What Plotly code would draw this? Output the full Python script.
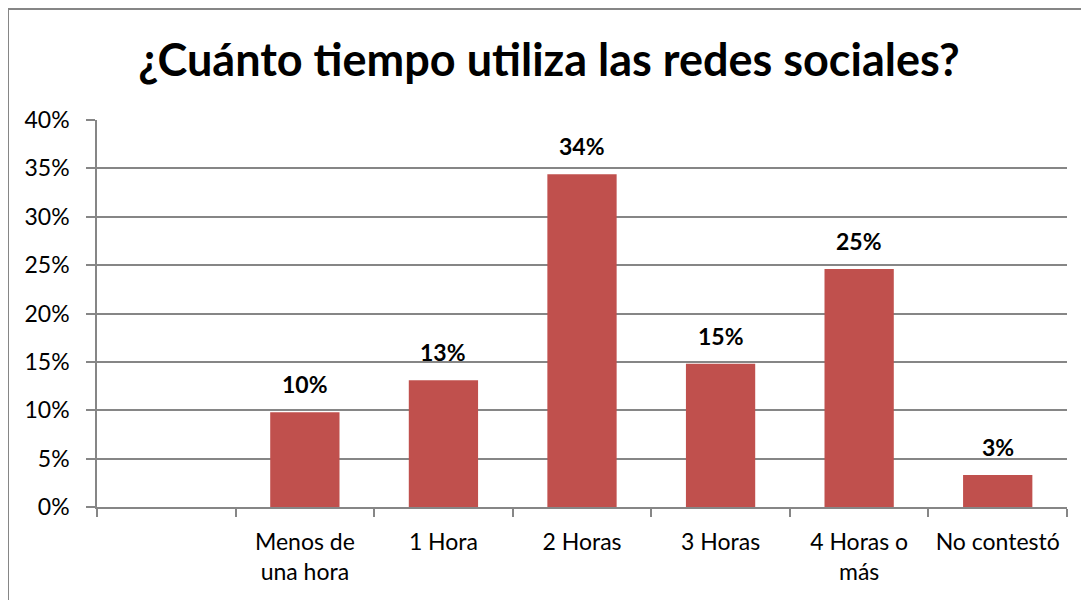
import plotly.graph_objects as go

categories = [" ", "Menos de<br>una hora", "1 Hora", "2 Horas", "3 Horas", "4 Horas o<br>más", "No contestó"]
values = [None, 9.8, 13.1, 34.4, 14.8, 24.6, 3.3]
labels = ["", "10%", "13%", "34%", "15%", "25%", "3%"]
yticks = [0, 5, 10, 15, 20, 25, 30, 35, 40]
ytick_text = [f"{v}%" for v in yticks]

FONT = "Lato"
GRAY = "#868686"

fig = go.Figure()
fig.add_trace(go.Bar(
    x=categories, y=values,
    marker=dict(color="#C0504D", line=dict(width=0)),
    hoverinfo="skip",
))

for c, v, t in zip(categories, values, labels):
    if v is None:
        continue
    fig.add_annotation(x=c, y=v, text=f"<b>{t}</b>", showarrow=False,
                       yanchor="bottom", yshift=12,
                       font=dict(family=FONT, size=23, color="#000000"))

fig.update_layout(
    width=1089, height=600,
    margin=dict(l=89, r=30, t=112, b=101),
    paper_bgcolor="white", plot_bgcolor="white",
    showlegend=False,
    bargap=0.5,
    title=dict(text="<b>¿Cuánto tiempo utiliza las redes sociales?</b>",
               x=(549 - 8) / 1089, xref="container", xanchor="center",
               y=1 - 52 / 600, yref="container", yanchor="middle",
               font=dict(family=FONT, size=45, color="#000000")),
    font=dict(family=FONT, size=23, color="#000000"),
    xaxis=dict(
        type="category", categoryorder="array", categoryarray=categories,
        showline=True, linecolor=GRAY, linewidth=1.5,
        ticks="outside", tickson="boundaries", ticklen=8, tickcolor=GRAY, tickwidth=1.5,
        showgrid=False, ticklabelstandoff=14,
        tickfont=dict(family=FONT, size=23, color="#000000"),
    ),
    yaxis=dict(
        range=[0, 40], tickvals=yticks, ticktext=ytick_text,
        showline=True, linecolor=GRAY, linewidth=1.5,
        ticks="outside", ticklen=9, tickcolor=GRAY, tickwidth=1.5,
        showgrid=True, gridcolor=GRAY, gridwidth=1.5,
        zeroline=False, ticklabelstandoff=12,
        tickfont=dict(family=FONT, size=23, color="#000000"),
    ),
)

fig.add_shape(type="rect", xref="paper", yref="paper",
              x0=-89 / 970, x1=1.04, y0=-0.28, y1=498 / 387,
              line=dict(color=GRAY, width=2), fillcolor="rgba(0,0,0,0)", layer="below")

fig.write_html("out.html")
